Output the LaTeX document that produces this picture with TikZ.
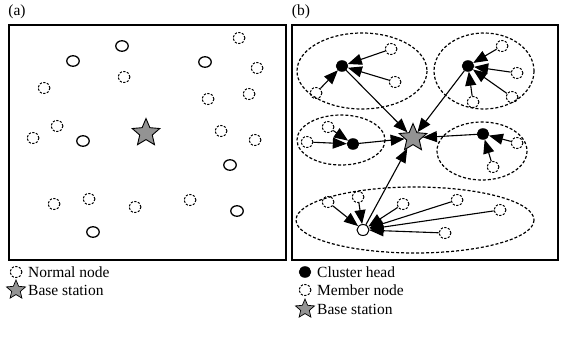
\documentclass[tikz,border=0pt]{standalone}
\usepackage{fontspec}
\setmainfont{Liberation Serif}
\usetikzlibrary{shapes.geometric,arrows.meta}
\begin{document}
\begin{tikzpicture}[x=1pt,y=-1pt,
  solidn/.style={ellipse,draw,line width=1.3pt,minimum width=12.5pt,minimum height=10.5pt,inner sep=0pt},
  dashn/.style={ellipse,draw,line width=1pt,dash pattern=on 2.2pt off 1.5pt,minimum width=12pt,minimum height=11pt,inner sep=0pt},
  chn/.style={ellipse,fill=black,draw=black,minimum width=12pt,minimum height=11pt,inner sep=0pt},
  chw/.style={ellipse,fill=white,draw=black,line width=1pt,minimum width=12pt,minimum height=11pt,inner sep=0pt},
  bs/.style={star,star points=5,star point ratio=2.2,fill=gray!85,draw=black,line width=0.9pt,minimum size=29pt,inner sep=0pt},
  bssmall/.style={star,star points=5,star point ratio=2.2,fill=gray!85,draw=black,line width=0.7pt,minimum size=20pt,inner sep=0pt},
  clus/.style={draw,line width=1.2pt,dash pattern=on 3pt off 2pt},
  arr/.style={line width=1.1pt,-{Triangle[length=14pt,width=11pt]}},
  panel/.style={draw,line width=1.5pt},
  lbl/.style={font=\fontsize{15.5}{18}\selectfont,inner sep=0pt}]
\useasboundingbox (0,0) rectangle (562,337);
% labels
\node[lbl] (la) at (17,12) {(a)};
\node[lbl] (lb) at (301,12) {(b)};
% panels
\draw[panel] (9,25) rectangle (286,260);
\draw[panel] (292,25) rectangle (558,260);
% panel (a)
\foreach \n/\x/\y in {a1/122/46,a2/73/61,a3/205/62,a4/83/141,a5/230/165,a6/237/211,a7/93/232}
  \node[solidn] (\n) at (\x,\y) {};
\foreach \n/\x/\y in {d1/239/38,d2/257/68,d3/124/77,d4/44/88,d5/208/99,d6/249/94,d7/57/126,d8/33/138,d9/221/131,d10/255/140,d11/54/204,d12/89/199,d13/135/207,d14/190/200}
  \node[dashn] (\n) at (\x,\y) {};
\node[bs] (sa) at (146,133) {};
% panel (b) clusters
\draw[clus] (362,71) ellipse [x radius=65,y radius=38];
\draw[clus] (484,71) ellipse [x radius=50,y radius=38];
\draw[clus] (341,140) ellipse [x radius=44,y radius=25];
\draw[clus] (482,151) ellipse [x radius=45,y radius=29];
\draw[clus] (415,220) ellipse [x radius=119,y radius=33];
\node[bs] (sb) at (413,138) {};
\node[chn] (c1) at (342,66) {};
\node[chn] (c2) at (468,66) {};
\node[chn] (c3) at (353,144) {};
\node[chn] (c4) at (483,134) {};
\node[chw] (c5) at (363,230) {};
\foreach \n/\x/\y in {m11/391/49,m12/395/82,m13/316/93,
  m21/502/46,m22/517/73,m23/512/97,m24/473/102,
  m31/307/142,m32/328/127,
  m41/517/143,m42/493/167,
  m51/328/202,m52/358/197,m53/403/204,m54/457/200,m55/500/210,m56/445/233}
  \node[dashn] (\n) at (\x,\y) {};
\foreach \m in {m11,m12,m13} \draw[arr] (\m) -- (c1);
\foreach \m in {m21,m22,m23,m24} \draw[arr] (\m) -- (c2);
\foreach \m in {m31,m32} \draw[arr] (\m) -- (c3);
\foreach \m in {m41,m42} \draw[arr] (\m) -- (c4);
\foreach \m in {m51,m52,m53,m54,m55,m56} \draw[arr] (\m) -- (c5);
\foreach \c in {c1,c2,c3,c4,c5} \draw[arr] (\c) -- (sb);
% legend left
\node[dashn] (ln) at (16,272) {};
\node[lbl,anchor=west] (lnt) at (28,272) {Normal node};
\node[bssmall] (ls) at (16,290) {};
\node[lbl,anchor=west] (lst) at (28,290) {Base station};
% legend right
\node[chn] (rc) at (305,272) {};
\node[lbl,anchor=west] (rct) at (317,272) {Cluster head};
\node[dashn] (rm) at (305,290) {};
\node[lbl,anchor=west] (rmt) at (317,290) {Member node};
\node[bssmall] (rs) at (305,309) {};
\node[lbl,anchor=west] (rst) at (317,309) {Base station};
\end{tikzpicture}
\end{document}
